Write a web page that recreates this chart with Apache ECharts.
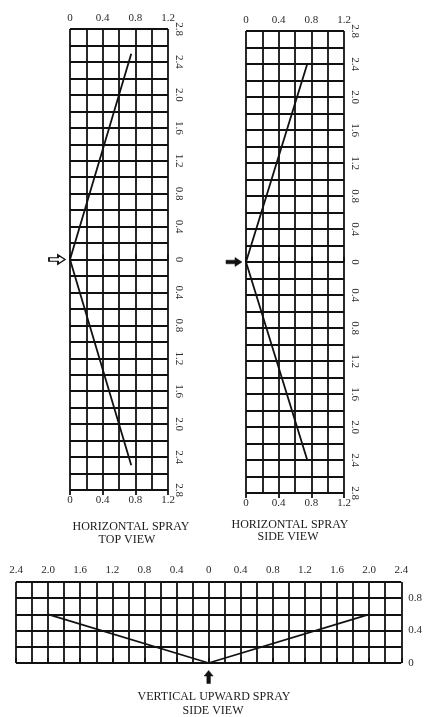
<!DOCTYPE html>
<html>
<head>
<meta charset="utf-8">
<script src="https://cdn.jsdelivr.net/npm/echarts@6/dist/echarts.min.js"></script>
<style>html,body{margin:0;padding:0;background:#fff;}#c{width:425px;height:717px;}</style>
</head>
<body>
<div id="c"></div>
<script>
// Data
const topViewX = [0.75, 0, 0.75];
const topViewY = [2.5, 0, -2.5];
const sideViewX = [0.75, 0, 0.75];
const sideViewY = [2.4, 0, -2.4];
const vertX = [-2.0, 0, 2.0];
const vertY = [0.6, 0, 0.6];
const originPoint = [0, 0];

const FONT = 'Liberation Serif';
const TXT = '#2a2a2a';
const LINE = '#111';

function fmt(v) {
  if (Math.abs(v) < 1e-9) return '0';
  return Math.abs(v).toFixed(1);
}
function fmtEvery(step) {
  return function (v) {
    const r = Math.abs(v) / step;
    if (Math.abs(r - Math.round(r)) > 1e-6) return '';
    return fmt(v);
  };
}
function zip(xs, ys) { return xs.map((x, i) => [x, ys[i]]); }

const split = { show: true, lineStyle: { color: LINE, width: 1.8 } };
const tick = { show: true, inside: false, length: 5, lineStyle: { color: LINE, width: 1.8 } };
const lbl = (extra) => Object.assign({ color: TXT, fontFamily: FONT, fontSize: 11 }, extra);

function xAxisFor(gi, pos, min, max, showSplit) {
  return {
    type: 'value', gridIndex: gi, position: pos, min: min, max: max, interval: 0.4,
    axisLine: { show: false }, axisTick: tick,
    axisLabel: lbl({ margin: 5, formatter: fmt }),
    splitLine: showSplit ? split : { show: false },
    minorTick: { show: false, splitNumber: 2 },
    minorSplitLine: showSplit ? split : { show: false }
  };
}

const option = {
  animation: false,
  backgroundColor: '#fff',
  grid: [
    { left: 70, top: 29, width: 98, height: 461 },
    { left: 246, top: 31, width: 98, height: 462 },
    { left: 16, top: 582, width: 386, height: 81 }
  ],
  xAxis: [
    xAxisFor(0, 'top', 0, 1.2, true),
    xAxisFor(0, 'bottom', 0, 1.2, false),
    xAxisFor(1, 'top', 0, 1.2, true),
    xAxisFor(1, 'bottom', 0, 1.2, false),
    {
      type: 'value', gridIndex: 2, position: 'top', min: -2.4, max: 2.4, interval: 0.4,
      axisLine: { show: false }, axisTick: tick,
      axisLabel: lbl({ margin: 6, formatter: fmt }),
      splitLine: split,
      minorTick: { show: false, splitNumber: 2 },
      minorSplitLine: split
    }
  ],
  yAxis: [
    {
      type: 'value', gridIndex: 0, position: 'right', min: -2.8, max: 2.8, interval: 0.4,
      axisLine: { show: false }, axisTick: tick,
      axisLabel: lbl({ margin: 5, rotate: -90, formatter: fmt }),
      splitLine: split,
      minorTick: { show: false, splitNumber: 2 },
      minorSplitLine: split
    },
    {
      type: 'value', gridIndex: 1, position: 'right', min: -2.8, max: 2.8, interval: 0.4,
      axisLine: { show: false }, axisTick: tick,
      axisLabel: lbl({ margin: 5, rotate: -90, formatter: fmt }),
      splitLine: split,
      minorTick: { show: false, splitNumber: 2 },
      minorSplitLine: split
    },
    {
      type: 'value', gridIndex: 2, position: 'right', min: 0, max: 1.0, interval: 0.2,
      axisLine: { show: false }, axisTick: { show: false },
      axisLabel: lbl({ margin: 7, formatter: function (v) { return v > 0.95 ? '' : fmtEvery(0.4)(v); } }),
      splitLine: split
    }
  ],
  series: [
    {
      type: 'line', xAxisIndex: 0, yAxisIndex: 0, data: zip(topViewX, topViewY),
      symbol: 'none', lineStyle: { color: LINE, width: 1.8 }, silent: true,
      markPoint: {
        silent: true, label: { show: false },
        data: [{
          coord: originPoint,
          symbol: 'path://M0,3 L9,3 L9,0 L16,5 L9,10 L9,7 L0,7 Z',
          symbolSize: [16, 9], symbolOffset: [-13, 0],
          itemStyle: { color: '#fff', borderColor: LINE, borderWidth: 1.4 }
        }]
      }
    },
    {
      type: 'line', xAxisIndex: 2, yAxisIndex: 1, data: zip(sideViewX, sideViewY),
      symbol: 'none', lineStyle: { color: LINE, width: 1.8 }, silent: true,
      markPoint: {
        silent: true, label: { show: false },
        data: [{
          coord: originPoint,
          symbol: 'path://M0,3 L9,3 L9,0 L16,5 L9,10 L9,7 L0,7 Z',
          symbolSize: [16, 9], symbolOffset: [-12, 0],
          itemStyle: { color: LINE, borderColor: LINE, borderWidth: 0.5 }
        }]
      }
    },
    {
      type: 'line', xAxisIndex: 4, yAxisIndex: 2, data: zip(vertX, vertY),
      symbol: 'none', lineStyle: { color: LINE, width: 1.8 }, silent: true,
      markPoint: {
        silent: true, label: { show: false },
        data: [{
          coord: originPoint,
          symbol: 'path://M5,0 L10,6 L7,6 L7,14 L3,14 L3,6 L0,6 Z',
          symbolSize: [9, 13], symbolOffset: [0, 14],
          itemStyle: { color: LINE, borderColor: LINE, borderWidth: 0.5 }
        }]
      }
    }
  ],
  graphic: [
    { type: 'text', style: { text: 'HORIZONTAL SPRAY', x: 131, y: 527, textAlign: 'center', textVerticalAlign: 'middle', font: '12px "Liberation Serif"', fill: '#1a1a1a' } },
    { type: 'text', style: { text: 'TOP VIEW', x: 127, y: 540, textAlign: 'center', textVerticalAlign: 'middle', font: '12px "Liberation Serif"', fill: '#1a1a1a' } },
    { type: 'text', style: { text: 'HORIZONTAL SPRAY', x: 290, y: 525, textAlign: 'center', textVerticalAlign: 'middle', font: '12px "Liberation Serif"', fill: '#1a1a1a' } },
    { type: 'text', style: { text: 'SIDE VIEW', x: 288, y: 537, textAlign: 'center', textVerticalAlign: 'middle', font: '12px "Liberation Serif"', fill: '#1a1a1a' } },
    { type: 'text', style: { text: 'VERTICAL UPWARD SPRAY', x: 214, y: 697, textAlign: 'center', textVerticalAlign: 'middle', font: '12px "Liberation Serif"', fill: '#1a1a1a' } },
    { type: 'text', style: { text: 'SIDE VIEW', x: 213, y: 711, textAlign: 'center', textVerticalAlign: 'middle', font: '12px "Liberation Serif"', fill: '#1a1a1a' } }
  ]
};

const chart = echarts.init(document.getElementById('c'), null, { renderer: 'canvas' });
chart.setOption(option);
</script>
</body>
</html>
